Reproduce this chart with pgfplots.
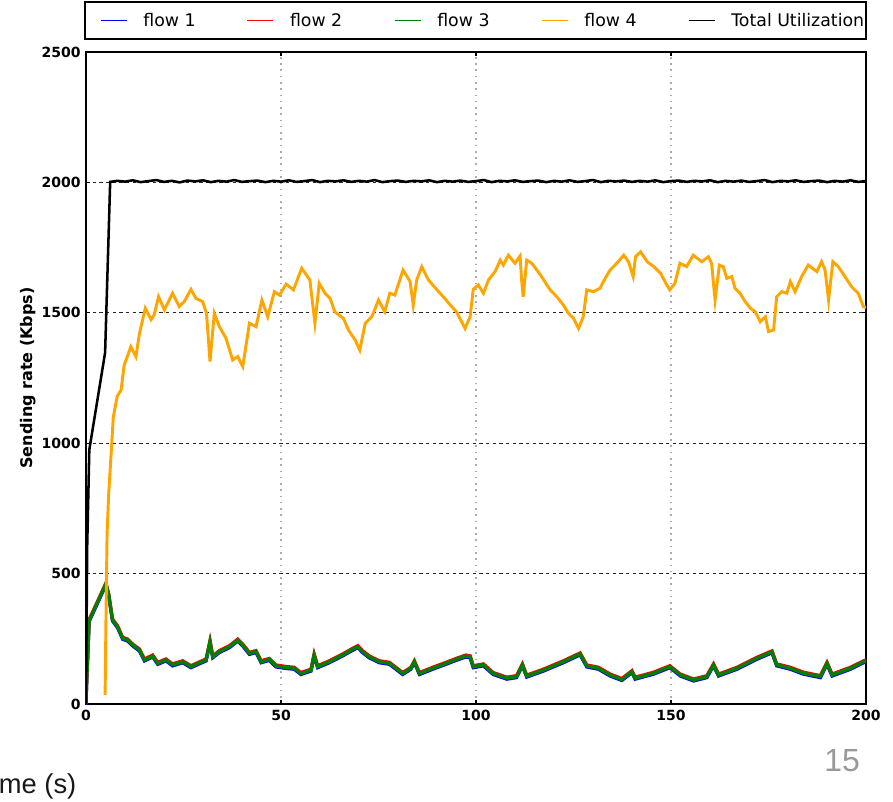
\documentclass[border=0pt]{standalone}
\usepackage{fontspec}
\setmainfont{DejaVu Sans}
\newfontfamily\dejavu{DejaVu Sans}
\newfontfamily\lib{Liberation Sans}
\usepackage{pgfplots}
\usepackage{pgfplotstable}
\pgfplotsset{compat=1.18}
\definecolor{mplorange}{RGB}{255,165,0}
\definecolor{mplgreen}{RGB}{0,128,0}

\pgfplotstableread{
x y
0 0
0.1 60
0.8 320
2.5 375
5.1 460
5.8 420
6.8 322
8.1 296
9.4 252
10.7 245
12.0 226
13.7 207
15.0 169
17.1 184
18.4 156
20.5 169
22.2 150
24.8 162
26.9 143
29.1 158
30.8 169
31.8 239
32.5 181
34.2 201
36.8 220
38.9 245
40.2 226
41.9 194
43.6 201
44.9 162
47.0 171
48.7 146
51.3 140
53.4 137
55.1 117
57.7 130
58.5 188
59.4 143
62.4 162
65.8 188
68.4 210
69.7 220
70.9 201
72.6 181
75.2 162
77.8 156
81.2 117
83.3 137
84.2 162
85.5 117
88.9 137
92.3 156
94.9 171
97.4 184
98.5 181
99.3 143
101.9 150
104.4 117
107.9 99
110.4 105
111.9 150
113.0 107
117.3 130
122.4 162
126.7 192
128.4 146
131.4 137
134.4 111
137.4 94
140.0 124
140.8 99
145.5 118
149.7 143
152.4 111
155.8 92
159.2 105
160.9 150
162.2 111
166.9 137
172.0 175
175.9 200
177.1 150
180.6 137
184.0 118
188.3 105
190.0 156
191.3 111
196.0 137
199.4 162
200 165
}\flowthree

\pgfplotstableread{
x y
4.9 35
5.1 300
5.4 650
5.8 800
6.2 900
7.0 1100
8.0 1180
9.0 1204
9.8 1300
11.5 1370
12.8 1332
13.7 1420
15.2 1517
16.7 1474
17.5 1493
18.6 1562
20.1 1511
22.2 1575
23.9 1524
25.2 1543
26.9 1590
28.2 1555
29.9 1543
30.9 1498
31.8 1313
32.9 1498
34.2 1447
35.9 1402
37.6 1319
38.9 1332
40.2 1294
41.9 1460
43.6 1447
45.1 1549
46.6 1485
48.3 1581
49.6 1568
51.3 1610
53.2 1588
55.3 1671
57.4 1626
58.7 1460
59.8 1613
61.3 1575
62.6 1555
63.8 1504
66.0 1479
67.3 1434
69.0 1396
70.2 1357
71.6 1460
73.3 1485
75.0 1549
76.6 1504
77.9 1575
79.2 1568
81.3 1664
83.1 1620
83.9 1530
84.8 1626
86.1 1677
87.8 1626
90.0 1588
91.6 1562
93.4 1530
95.0 1504
97.2 1440
98.5 1485
99.3 1590
100.6 1607
101.9 1575
103.2 1626
104.9 1658
106.2 1702
107.0 1683
108.3 1721
110.0 1690
111.3 1718
111.7 1626
112.1 1562
113.0 1702
114.3 1690
115.6 1664
116.8 1639
119.0 1588
120.7 1562
122.4 1530
123.7 1498
125.0 1479
126.3 1440
127.5 1485
128.4 1588
130.1 1581
131.8 1594
133.1 1632
134.4 1664
136.1 1690
137.9 1721
139.1 1696
140.3 1639
140.9 1715
142.2 1734
143.9 1696
145.6 1677
147.4 1650
148.9 1607
149.7 1588
151.0 1613
152.3 1690
154.0 1677
155.7 1721
157.9 1696
159.6 1715
160.4 1690
161.3 1549
162.4 1683
163.4 1677
164.3 1632
165.6 1639
166.4 1594
167.7 1575
169.0 1543
170.4 1517
171.6 1504
172.9 1466
174.2 1485
175.0 1428
176.3 1434
177.1 1562
178.4 1581
179.7 1575
180.6 1620
181.8 1581
183.5 1639
185.2 1683
187.4 1658
188.6 1696
189.5 1664
190.4 1549
191.5 1696
192.9 1677
194.6 1639
196.3 1600
198.0 1575
199.3 1524
200 1520
}\flowfour

\pgfplotstableread{
x y
0 0
0.3 600
0.85 975
4.9 1347
6.2 2002
8 2006
10 2003
12 2008
14 2001
16 2005
18 2009
20 2002
22 2006
24 2000
26 2007
28 2004
30 2008
32 2001
34 2006
36 2003
38 2009
40 2002
42 2005
44 2007
46 2001
48 2006
50 2003
52 2008
54 2002
56 2005
58 2009
60 2001
62 2006
64 2004
66 2008
68 2002
70 2006
72 2003
74 2009
76 2001
78 2005
80 2007
82 2002
84 2006
86 2004
88 2008
90 2001
92 2006
94 2003
96 2007
98 2002
100 2005
102 2009
104 2001
106 2006
108 2004
110 2008
112 2002
114 2005
116 2007
118 2001
120 2006
122 2003
124 2008
126 2002
128 2005
130 2009
132 2001
134 2006
136 2004
138 2007
140 2002
142 2006
144 2003
146 2008
148 2001
150 2005
152 2007
154 2002
156 2006
158 2004
160 2008
162 2001
164 2006
166 2003
168 2007
170 2002
172 2005
174 2009
176 2001
178 2006
180 2004
182 2008
184 2002
186 2005
188 2007
190 2001
192 2006
194 2003
196 2008
198 2002
200 2005
}\total

\begin{document}
\begin{tikzpicture}
\useasboundingbox (-64.5pt,-72.75pt) rectangle (605.25pt,528pt);
\begin{axis}[
  at={(0pt,0pt)}, anchor=south west,
  scale only axis, width=585pt, height=489pt,
  xmin=0, xmax=200, ymin=0, ymax=2500,
  xtick={0,50,100,150,200},
  ytick={0,500,1000,1500,2000,2500},
  /pgf/number format/assume math mode=true,
  /pgf/number format/1000 sep={},
  tick label style={font=\dejavu\bfseries\fontsize{10.5}{12}\selectfont},
  xticklabel style={yshift=-1pt},
  yticklabel style={xshift=-0.5pt},
  tick align=inside,
  major tick length=3pt,
  tick style={black, line width=0.8pt},
  axis line style={line width=1.8pt},
  grid=major,
  x grid style={gray!65, line width=1pt, dash pattern=on 1.2pt off 3.5pt},
  y grid style={black!85, line width=0.6pt, dash pattern=on 2.5pt off 2.5pt},
  ylabel={Sending rate (Kbps)},
  ylabel style={at={(axis description cs:-0.074,0.5)}, anchor=center, font=\dejavu\bfseries\fontsize{12}{14}\selectfont},
  legend columns=5,
  legend cell align=left,
  legend image code/.code={\path (0pt,0pt); \draw[#1,line width=1.1pt] (10pt,0pt) -- (29.5pt,0pt);},
  legend style={at={(rel axis cs:-0.0026,1)}, anchor=south west, yshift=9pt,
    draw=black, line width=1.5pt, inner xsep=1pt, inner ysep=6pt,
    font=\dejavu\fontsize{13}{15}\selectfont,
    nodes={inner xsep=0pt},
    /tikz/every odd column/.append style={column sep=12pt},
    /tikz/every even column/.append style={column sep=28pt}},
]
\addlegendimage{blue}
\addlegendentry{flow 1}
\addlegendimage{red}
\addlegendentry{flow 2}
\addplot[blue, line width=2.5pt, no markers, yshift=-0.7pt, forget plot] table {\flowthree};
\addplot[red, line width=2.5pt, no markers, yshift=0.7pt, forget plot] table {\flowthree};
\addplot[mplgreen, line width=2.5pt, no markers] table {\flowthree};
\addlegendentry{flow 3}
\addplot[mplorange, line width=2.2pt, no markers] table {\flowfour};
\addlegendentry{flow 4}
\addplot[black, line width=1.9pt, no markers] table {\total};
\addlegendentry{Total Utilization}
\end{axis}
\node[anchor=base west, inner sep=0pt, font=\lib\fontsize{20.5}{24}\selectfont, text=black!90] at (-65.5pt,-66.75pt) {me (s)};
\node[anchor=base west, inner sep=0pt, font=\lib\fontsize{24}{28}\selectfont, text=black!40] at (553.5pt,-50.25pt) {15};
\end{tikzpicture}
\end{document}
